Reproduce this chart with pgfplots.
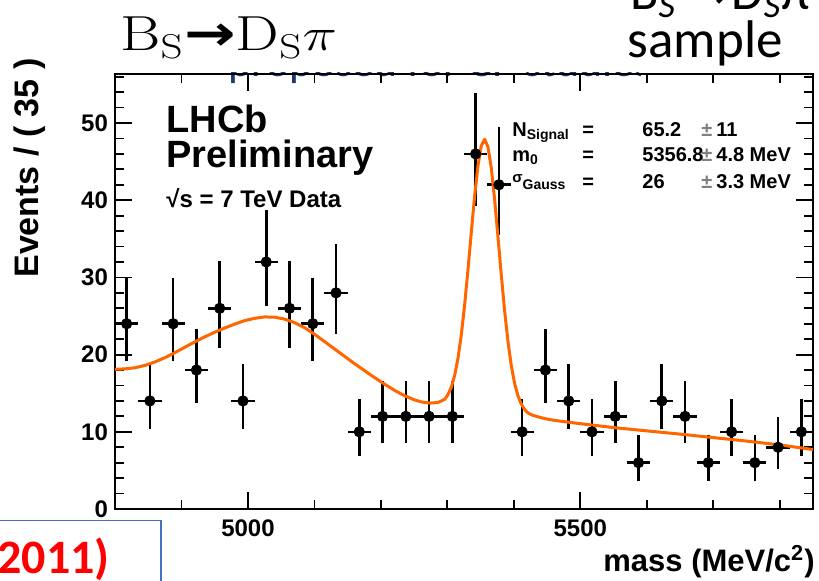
\documentclass[border=0pt]{standalone}
\usepackage{fontspec}
\usepackage{pgfplots}
\pgfplotsset{compat=1.18}
\usepackage{pgfplotstable}

\newfontfamily\rootfont{Liberation Sans}
\newfontfamily\slidefont{Carlito}
\newfontfamily\symfont{DejaVu Sans}

\definecolor{fitorange}{RGB}{255,102,0}
\definecolor{boxblue}{RGB}{68,114,196}
\definecolor{slidenavy}{RGB}{31,56,110}
\definecolor{slidered}{RGB}{255,0,0}

% Candidates per 35 MeV/c^2 bin, with asymmetric Poisson errors
\pgfplotstableread{
m      n   em    ep
4817.5 24  4.86  5.98
4852.5 14  3.70  4.83
4887.5 24  4.86  5.98
4922.5 18  4.21  5.30
4957.5 26  5.08  6.17
4992.5 14  3.70  4.83
5027.5 32  5.65  6.72
5062.5 26  5.08  6.17
5097.5 24  4.86  5.98
5132.5 28  5.28  6.36
5167.5 10  3.11  4.27
5202.5 12  3.42  4.56
5237.5 12  3.42  4.56
5272.5 12  3.42  4.56
5307.5 12  3.42  4.56
5342.5 46  6.76  7.83
5377.5 42  6.48  7.52
5412.5 10  3.11  4.27
5447.5 18  4.21  5.30
5482.5 14  3.70  4.83
5517.5 10  3.11  4.27
5552.5 12  3.42  4.56
5587.5  6  2.38  3.58
5622.5 14  3.70  4.83
5657.5 12  3.42  4.56
5692.5  6  2.38  3.58
5727.5 10  3.11  4.27
5762.5  6  2.38  3.58
5797.5  8  2.77  3.95
5832.5 10  3.11  4.27
}\datatable

% Fitted total PDF (signal + partially reconstructed + combinatorial)
\pgfplotstableread{
m     f
4800  18.10
4815  18.15
4830  18.30
4845  18.60
4860  19.05
4875  19.60
4890  20.25
4905  20.95
4920  21.65
4935  22.30
4950  22.90
4965  23.45
4980  23.95
4995  24.40
5010  24.70
5025  24.88
5040  24.85
5055  24.60
5070  24.15
5085  23.50
5100  22.65
5115  21.70
5130  20.75
5145  19.80
5160  18.85
5175  17.95
5190  17.05
5205  16.20
5220  15.40
5235  14.70
5250  14.15
5262  13.85
5274  13.72
5286  13.80
5296  14.21
5301  14.83
5306  15.79
5311  17.32
5316  19.55
5321  22.60
5326  26.47
5331  31.00
5336  35.86
5341  40.54
5346  44.46
5351  47.05
5356  47.90
5361  46.90
5366  44.21
5371  40.14
5376  35.36
5381  30.40
5386  25.77
5391  21.80
5396  18.65
5401  16.32
5406  14.69
5411  13.63
5416  12.91
5421  12.46
5426  12.22
5431  12.08
5440  11.85
5450  11.65
5460  11.50
5470  11.38
5500  11.05
5550  10.55
5600  10.12
5650   9.70
5700   9.25
5750   8.80
5800   8.30
5850   7.70
}\fittable

\begin{document}
\begin{tikzpicture}
\useasboundingbox (0,0) rectangle (409.5pt,290pt);
\clip (0,0) rectangle (409.5pt,290pt);
\fill[white] (0,0) rectangle (409.5pt,290pt);

% slide text partly hidden behind the plot
\begin{scope}[x=0.5pt,y=0.5pt]
  \clip (200,485) rectangle (640,507.5);
  \node[anchor=base west, inner sep=0, text=slidenavy,
        font=\slidefont\fontsize{22}{24}\selectfont] at (228,503) {proposed for CP studies};
\end{scope}

\begin{axis}[
  at={(57.5pt,35.5pt)}, anchor=south west,
  scale only axis, width=349pt, height=217.5pt,
  xmin=4800, xmax=5850, ymin=0, ymax=56.35,
  axis line style={line width=1pt, black},
  xtick={5000,5500}, minor xtick={4800,4900,...,5800},
  ytick={0,10,...,50}, minor ytick={2,4,...,56},
  tick align=inside, tick pos=both,
  every tick/.style={black, line width=0.9pt},
  major tick length=8.5pt, minor tick length=4.5pt,
  /pgf/number format/1000 sep={},
  /pgf/number format/assume math mode=true,
  ticklabel style={font=\rootfont\bfseries\fontsize{12}{14}\selectfont},
  xticklabel style={yshift=-2pt},
  clip=true,
]
\addplot[only marks, mark=*, mark size=2.6pt, black,
  error bars/.cd, x dir=both, x fixed=17.5, y dir=both, y explicit,
  error mark=none, error bar style={line width=1.3pt, black}]
  table[x=m, y=n, y error plus=ep, y error minus=em] {\datatable};
\addplot[fitorange, line width=1.5pt, line join=round, no marks]
  table[x=m, y=f] {\fittable};
\end{axis}

\begin{scope}[x=0.5pt,y=0.5pt]
% axis titles
\node[rotate=90, inner sep=0, font=\rootfont\bfseries\fontsize{17}{19}\selectfont]
  at (30,412) {Events / ( 35 )};
\node[anchor=base east, inner sep=0, font=\rootfont\bfseries\fontsize{15.5}{18}\selectfont]
  at (815,9) {mass (MeV/c\textsuperscript{2})};

% experiment label
\node[anchor=base west, inner sep=0, font=\rootfont\bfseries\fontsize{19}{21}\selectfont]
  at (166,448) {LHCb};
\node[anchor=base west, inner sep=0, font=\rootfont\bfseries\fontsize{19}{21}\selectfont]
  at (166,413) {Preliminary};
\node[anchor=base west, inner sep=0, font=\rootfont\bfseries\fontsize{12}{14}\selectfont]
  at (166,373) {√s = 7 TeV Data};

% fit parameters
\begin{scope}[every node/.style={anchor=base west, inner sep=0,
    font=\rootfont\bfseries\fontsize{10}{12}\selectfont}]
  \node at (512,444) {N\textsubscript{Signal}};
  \node at (582,444) {=};
  \node at (642,444) {65.2};
  \node[text=gray] at (701,444) {±};
  \node at (716,444) {11};
  \node at (512,418.5) {m\textsubscript{0}};
  \node at (582,418.5) {=};
  \node at (642,418.5) {5356.8};
  \node[text=gray] at (701,418.5) {±};
  \node at (716,418.5) {4.8 MeV};
  \node at (512,394) {\raisebox{0.35ex}{\fontsize{7.5}{9}\selectfont σ}\textsubscript{Gauss}};
  \node at (582,392) {=};
  \node at (642,392) {26};
  \node[text=gray] at (701,392) {±};
  \node at (716,392) {3.3 MeV};
\end{scope}

% slide title and captions
\node[anchor=base west, inner sep=0, font=\fontsize{22}{26}\selectfont]
  at (120,530) {\scalebox{1.4}[1.12]{B\textsubscript{S}{\symfont\bfseries →}D\textsubscript{S}$\pi$}};
\node[anchor=base west, inner sep=0, font=\slidefont\fontsize{26}{28}\selectfont]
  at (630,570) {B\textsubscript{\textit{S}}\textsuperscript{-}{\symfont →}D\textsubscript{\textit{S}}π};
\node[anchor=base east, inner sep=0, font=\slidefont\fontsize{26.5}{28}\selectfont]
  at (783,523) {sample};

% caption box at the lower left
\draw[boxblue, line width=0.8pt] (-5,59.5) -- (161,59.5) -- (161,-10);
\node[anchor=base east, inner sep=0, text=slidered,
      font=\slidefont\bfseries\fontsize{24}{26}\selectfont] at (110,7) {2011)};
\end{scope}
\end{tikzpicture}
\end{document}
